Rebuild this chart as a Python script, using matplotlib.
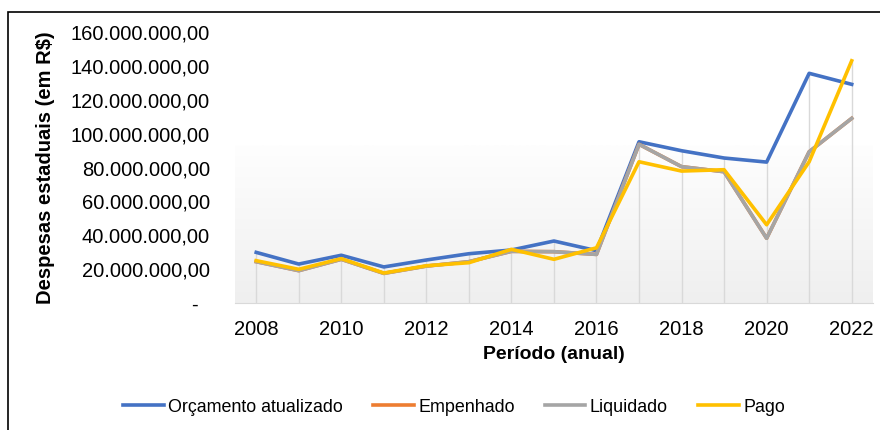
import numpy as np
import matplotlib.pyplot as plt
import matplotlib.ticker as mticker
from matplotlib.patches import Rectangle
from matplotlib.colors import LinearSegmentedColormap

plt.rcParams['font.family'] = ['Liberation Sans', 'DejaVu Sans']

# dados (R$)
anos = [2008, 2009, 2010, 2011, 2012, 2013, 2014, 2015,
        2016, 2017, 2018, 2019, 2020, 2021, 2022]
orcamento = [29.9e6, 23.0e6, 28.2e6, 21.3e6, 25.4e6, 29.1e6, 31.3e6, 36.6e6,
             30.9e6, 95.2e6, 89.9e6, 85.6e6, 83.2e6, 135.6e6, 129.1e6]
empenhado = [24.4e6, 19.1e6, 25.8e6, 17.5e6, 21.8e6, 24.4e6, 30.5e6, 30.3e6,
             28.7e6, 93.7e6, 80.5e6, 77.5e6, 38.2e6, 89.3e6, 109.0e6]
liquidado = [24.4e6, 19.1e6, 25.8e6, 17.5e6, 21.8e6, 24.4e6, 30.5e6, 30.3e6,
             28.7e6, 93.7e6, 80.5e6, 77.5e6, 38.2e6, 89.3e6, 109.0e6]
pago = [25.0e6, 19.9e6, 26.2e6, 17.7e6, 22.0e6, 23.8e6, 31.7e6, 25.8e6,
        32.6e6, 83.4e6, 77.9e6, 78.7e6, 46.2e6, 83.4e6, 143.0e6]

series = [
    ('Orçamento atualizado', orcamento, '#4472C4'),
    ('Empenhado', empenhado, '#ED7D31'),
    ('Liquidado', liquidado, '#A5A5A5'),
    ('Pago', pago, '#FFC000'),
]

fig = plt.figure(figsize=(8.8, 4.3), dpi=100)
ax = fig.add_axes([0.267, 0.2953, 0.725, 0.6303])

# fundo em gradiente (parte de baixo da area)
grad = np.linspace(0, 1, 100).reshape(-1, 1)
ax.imshow(grad, extent=[2007.5, 2022.5, 0, 93e6], aspect='auto',
          cmap=LinearSegmentedColormap.from_list('g', ['#efefef', '#fefefe']),
          origin='lower', zorder=0)

# linhas de queda
topo = np.max([orcamento, empenhado, liquidado, pago], axis=0)
ax.vlines(anos, 0, topo, color='#d9d9d9', lw=1.0, zorder=1)

for nome, vals, cor in series:
    ax.plot(anos, vals, color=cor, lw=2.6, label=nome, zorder=3,
            solid_joinstyle='round')

ax.set_xlim(2007.5, 2022.5)
ax.set_ylim(0, 160e6)
ax.set_xticks(range(2008, 2023, 2))
ax.set_yticks(np.arange(0, 160e6 + 1, 20e6))


def fmt_brl(v, pos):
    if v == 0:
        return '-  '
    s = f'{v:,.2f}'
    return s.replace(',', 'X').replace('.', ',').replace('X', '.')


ax.yaxis.set_major_formatter(mticker.FuncFormatter(fmt_brl))
ax.tick_params(axis='both', length=0, labelsize=14.5, colors='#000000')
ax.tick_params(axis='y', pad=18)
ax.tick_params(axis='x', pad=12)

for s in ['top', 'right', 'left']:
    ax.spines[s].set_visible(False)
ax.spines['bottom'].set_color('#d9d9d9')
ax.set_facecolor('white')

ax.set_xlabel('Período (anual)', fontsize=14, fontweight='bold', labelpad=5)
ax.set_ylabel('Despesas estaduais (em R$)', fontsize=14.5, fontweight='bold')
ax.yaxis.set_label_coords(-0.282, 0.5)

fig.legend(loc='center', bbox_to_anchor=(0.516, 0.053), ncol=4, frameon=False,
           fontsize=12.9, handlelength=2.25, columnspacing=1.7,
           handletextpad=0.25)

fig.patches.append(Rectangle((8 / 880, -0.1), 1.2, 1.1 - 12 / 430,
                             transform=fig.transFigure, fill=False,
                             edgecolor='black', lw=1.2))

fig.savefig('out.png', dpi=100)
